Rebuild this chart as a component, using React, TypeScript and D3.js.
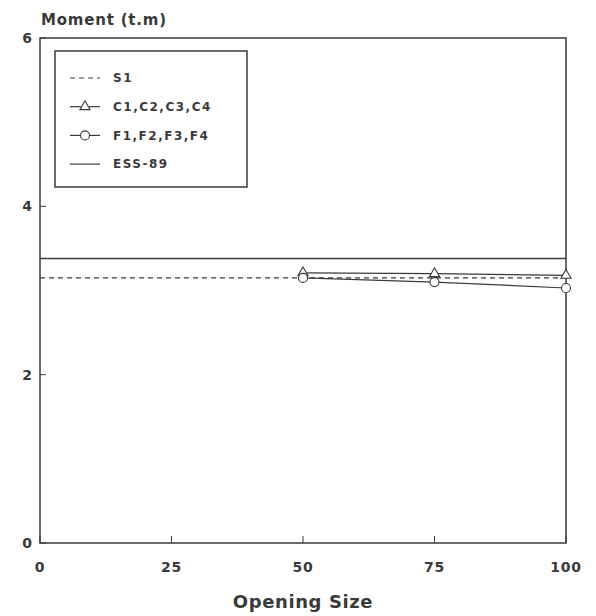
import React from "react";
import * as d3 from "d3";

const xTicks = [0, 25, 50, 75, 100];
const yTicks = [0, 2, 4, 6];
const s1X = [0, 100];
const s1Y = [3.15, 3.15];
const essX = [0, 100];
const essY = [3.38, 3.38];
const cX = [50, 75, 100];
const cY = [3.21, 3.2, 3.18];
const fX = [50, 75, 100];
const fY = [3.15, 3.1, 3.03];
const legendLabels = ["S1", "C1,C2,C3,C4", "F1,F2,F3,F4", "ESS-89"];

const W = 596, H = 616;
const L = 40, R = 566, T = 38, B = 543;
const ink = "#3a3a3a";
const font = "'DejaVu Sans', 'Liberation Sans', Arial, sans-serif";

export default function App() {
  const x = d3.scaleLinear().domain([0, 100]).range([L, R]);
  const y = d3.scaleLinear().domain([0, 6]).range([B, T]);
  const line = d3.line<[number, number]>().x(d => x(d[0])).y(d => y(d[1]));
  const zip = (a: number[], b: number[]) => a.map((v, i) => [v, b[i]] as [number, number]);
  const tri = d3.symbol().type(d3.symbolTriangle).size(45)() as string;

  const lx = 55, ly = 51, lw = 192, lh = 136;
  const rowY = (i: number) => 78 + i * 28.7;

  return (
    <svg width={W} height={H} style={{ position: "absolute", left: 0, top: 0, background: "#fff" }}>
      <rect x={0} y={0} width={W} height={H} fill="#fff" />
      <text x={41} y={25} fontFamily={font} fontSize={15} fontWeight="bold" letterSpacing={0.8} fill={ink}>Moment (t.m)</text>
      <rect x={L} y={T} width={R - L} height={B - T} fill="none" stroke={ink} strokeWidth={1.5} />
      {yTicks.map(t => (
        <g key={"y" + t}>
          <line x1={L} x2={L + 6} y1={y(t)} y2={y(t)} stroke={ink} strokeWidth={1} />
          <text x={L - 8} y={y(t)} dy="0.35em" textAnchor="end" fontFamily={font} fontSize={14} fontWeight="bold" fill={ink}>{t}</text>
        </g>
      ))}
      {xTicks.map(t => (
        <g key={"x" + t}>
          <line x1={x(t)} x2={x(t)} y1={B} y2={B - 7} stroke={ink} strokeWidth={1} />
          <text x={x(t)} y={B + 24} dy="0.35em" textAnchor="middle" fontFamily={font} fontSize={14} fontWeight="bold" letterSpacing={0.8} fill={ink}>{t}</text>
        </g>
      ))}
      <text x={(L + R) / 2} y={B + 59} dy="0.35em" textAnchor="middle" fontFamily={font} fontSize={18} fontWeight="bold" letterSpacing={0.6} fill={ink}>Opening Size</text>

      <path d={line(zip(essX, essY)) as string} fill="none" stroke={ink} strokeWidth={1.5} />
      <path d={line(zip(s1X, s1Y)) as string} fill="none" stroke={ink} strokeWidth={1.2} strokeDasharray="5,4" />
      <path d={line(zip(cX, cY)) as string} fill="none" stroke={ink} strokeWidth={1.2} />
      <path d={line(zip(fX, fY)) as string} fill="none" stroke={ink} strokeWidth={1.2} />
      {zip(cX, cY).map((d, i) => (
        <path key={"c" + i} d={tri} transform={`translate(${x(d[0])},${y(d[1])})`} fill="#fff" stroke={ink} strokeWidth={1.1} />
      ))}
      {zip(fX, fY).map((d, i) => (
        <circle key={"f" + i} cx={x(d[0])} cy={y(d[1])} r={4.5} fill="#fff" stroke={ink} strokeWidth={1.1} />
      ))}

      <rect x={lx} y={ly} width={lw} height={lh} fill="#fff" stroke={ink} strokeWidth={1.5} />
      {legendLabels.map((lab, i) => (
        <g key={lab}>
          <line x1={70} x2={100} y1={rowY(i)} y2={rowY(i)} stroke={ink} strokeWidth={1.2}
            strokeDasharray={i === 0 ? "5,4" : undefined} />
          {i === 1 && <path d={tri} transform={`translate(85,${rowY(i)})`} fill="#fff" stroke={ink} strokeWidth={1.1} />}
          {i === 2 && <circle cx={85} cy={rowY(i)} r={4.5} fill="#fff" stroke={ink} strokeWidth={1.1} />}
          <text x={113} y={rowY(i)} dy="0.35em" fontFamily={font} fontSize={12} fontWeight="bold" letterSpacing={1.5} fill={ink}>{lab}</text>
        </g>
      ))}
    </svg>
  );
}
